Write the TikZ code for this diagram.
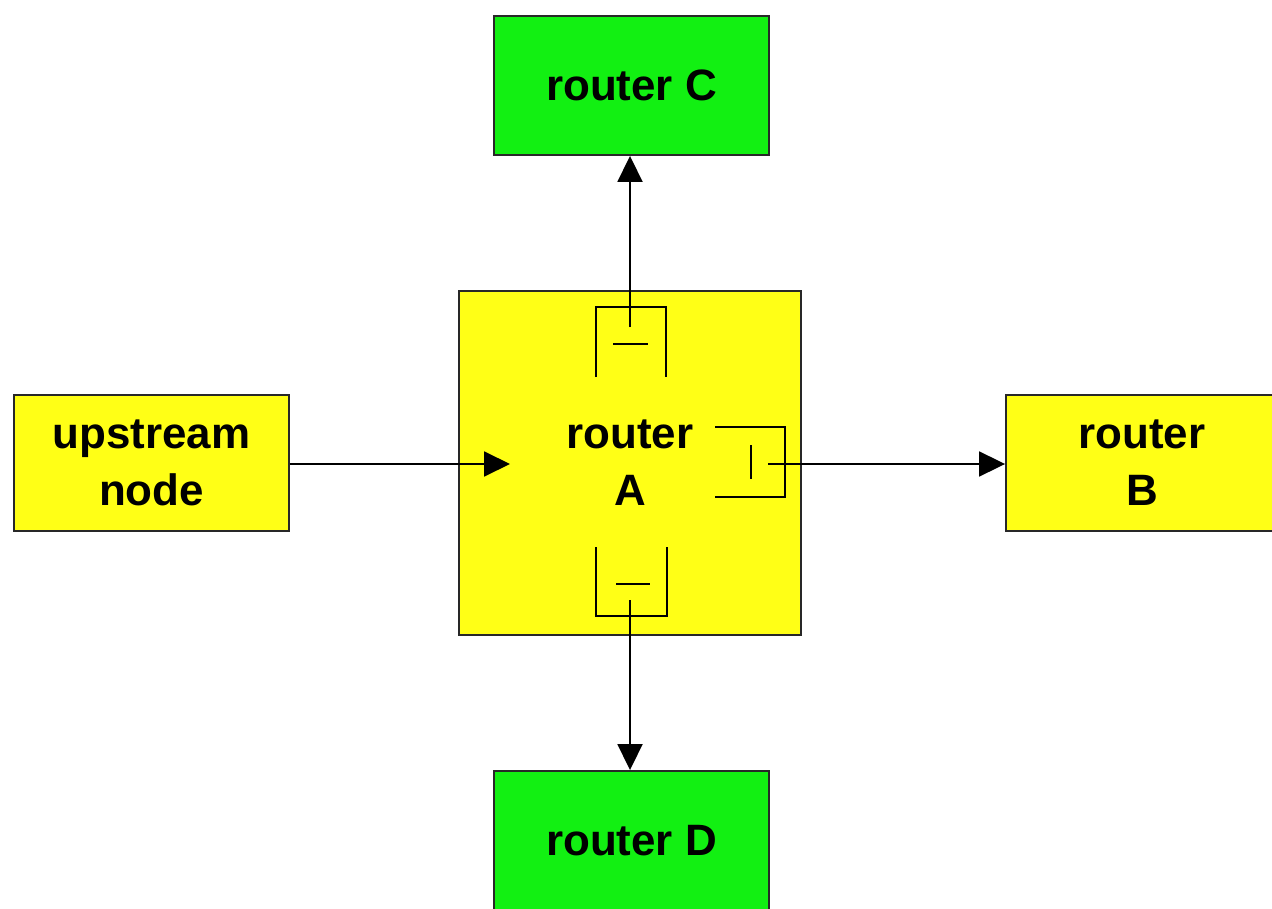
\documentclass[tikz,border=0pt]{standalone}
\usepackage{fontspec}
\setmainfont{Liberation Sans}
\usetikzlibrary{arrows.meta}
\definecolor{routeryellow}{RGB}{255,255,22}
\definecolor{routergreen}{RGB}{18,240,18}
\definecolor{boxline}{RGB}{40,40,40}
\begin{document}
\begin{tikzpicture}[x=0.02cm,y=-0.02cm,
  box/.style={draw=boxline,line width=1.1pt,inner sep=0pt,align=center,
    font=\fontsize{25}{32.4}\selectfont\bfseries},
  yellowbox/.style={box,fill=routeryellow},
  greenbox/.style={box,fill=routergreen,minimum width=5.5cm,minimum height=2.78cm},
  link/.style={line width=1.1pt,-{Triangle[length=0.52cm,width=0.5cm]}},
  queue/.style={line width=1.6pt}]
\clip (0,0) rectangle (1272,909);
\node[greenbox]                                              (routerC)   at (631.5, 85.5) {router C};
\node[greenbox]                                              (routerD)   at (631.5,840.5) {router D};
\node[yellowbox,minimum width=5.5cm,minimum height=2.72cm]   (upstream)  at (151.5,  463) {upstream\\node};
\node[yellowbox,minimum width=6.84cm,minimum height=6.88cm]  (routerA)   at (  630,  463) {router\\A};
\node[yellowbox,minimum width=5.44cm,minimum height=2.72cm]  (routerB)   at ( 1142,  463) {router\\B};

% output queues inside router A
\draw[queue] (596,377) -- (596,307) -- (666,307) -- (666,377);
\draw[queue] (613,344) -- (648,344);
\draw[queue] (596,547) -- (596,616) -- (667,616) -- (667,547);
\draw[queue] (616,584) -- (650,584);
\draw[queue] (715,427) -- (785,427) -- (785,497) -- (715,497);
\draw[queue] (751,445) -- (751,479);

\coordinate (inA)    at (510,464);
\coordinate (outTop) at (630,327);
\coordinate (outBot) at (630,600);
\coordinate (outRgt) at (768,464);

\draw[link] (upstream.east |- inA) -- (inA);
\draw[link] (outTop) -- (routerC.south -| outTop);
\draw[link] (outBot) -- (routerD.north -| outBot);
\draw[link] (outRgt) -- (routerB.west |- outRgt);
\end{tikzpicture}
\end{document}
